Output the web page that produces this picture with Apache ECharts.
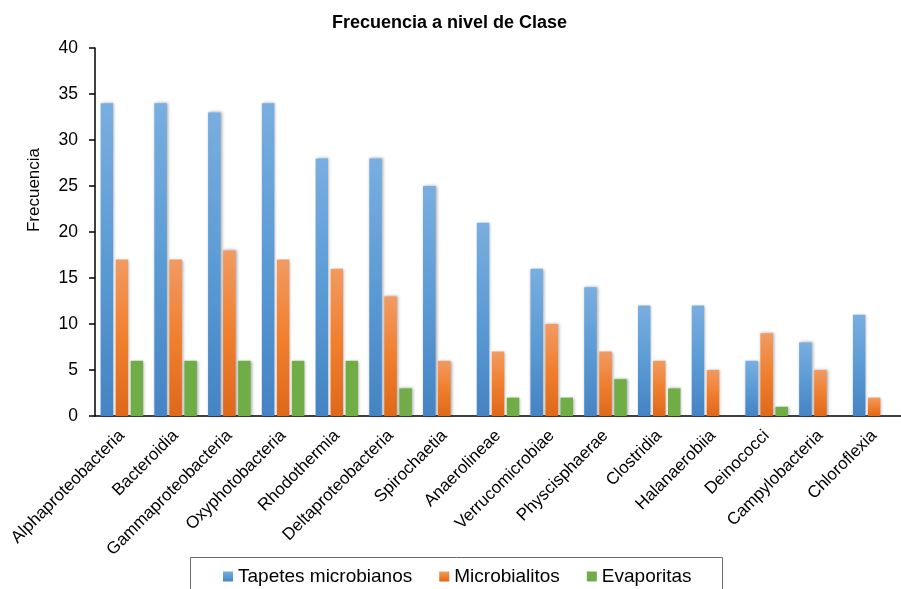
<!DOCTYPE html>
<html>
<head>
<meta charset="utf-8">
<script src="https://cdn.jsdelivr.net/npm/echarts@6/dist/echarts.min.js"></script>
<style>
    html, body { margin: 0; padding: 0; background: #fff; }
    #container { width: 901px; height: 589px; }
</style>
</head>
<body>
<div id="container"></div>
<script>
var clases = ['Alphaproteobacteria', 'Bacteroidia', 'Gammaproteobacteria', 'Oxyphotobacteria',
    'Rhodothermia', 'Deltaproteobacteria', 'Spirochaetia', 'Anaerolineae', 'Verrucomicrobiae',
    'Physcisphaerae', 'Clostridia', 'Halanaerobiia', 'Deinococci', 'Campylobacteria', 'Chloroflexia'];
var tapetes = [34, 34, 33, 34, 28, 28, 25, 21, 16, 14, 12, 12, 6, 8, 11];
var microbialitos = [17, 17, 18, 17, 16, 13, 6, 7, 10, 7, 6, 5, 9, 5, 2];
var evaporitas = [6, 6, 6, 6, 6, 3, 0, 2, 2, 4, 3, 0, 1, 0, 0];
var seriesNames = ['Tapetes microbianos', 'Microbialitos', 'Evaporitas'];

function grad(top, mid, bottom) {
    return new echarts.graphic.LinearGradient(0, 0, 0, 1, [
        {offset: 0, color: top},
        {offset: 0.5, color: mid},
        {offset: 1, color: bottom}
    ]);
}

function barSerie(name, data, color) {
    return {
        name: name,
        type: 'bar',
        data: data,
        barWidth: 12.5,
        barGap: '20%',
        itemStyle: {
            color: color,
            shadowBlur: 3,
            shadowOffsetX: 1,
            shadowColor: 'rgba(0,0,0,0.35)'
        }
    };
}

var myChart = echarts.init(document.getElementById('container'));
var font = 'Liberation Sans, Arial, sans-serif';
var option = {
    animation: false,
    textStyle: {fontFamily: font},
    color: ['#5b9bd5', '#ed7d31', '#70ad47'],
    title: {
        text: 'Frecuencia a nivel de Clase',
        left: 327,
        top: 9,
        textStyle: {fontSize: 18, fontWeight: 'bold', color: '#000', fontFamily: font}
    },
    legend: {
        data: seriesNames,
        left: 218,
        top: 562,
        icon: 'rect',
        itemWidth: 10,
        itemHeight: 10,
        itemGap: 27,
        textStyle: {fontSize: 19, color: '#000', fontFamily: font}
    },
    graphic: [{
        type: 'rect',
        shape: {x: 190.5, y: 557.5, width: 532, height: 40},
        style: {fill: 'none', stroke: '#6b6b6b', lineWidth: 1},
        silent: true
    }],
    grid: {
        left: 95,
        right: -12,
        top: 48,
        bottom: 173
    },
    xAxis: [{
        type: 'category',
        data: clases,
        axisLine: {lineStyle: {color: '#000', width: 1.5}},
        axisTick: {length: 5, lineStyle: {color: '#000', width: 1.5}},
        axisLabel: {
            interval: 0,
            rotate: 45,
            margin: 17,
            fontSize: 17,
            color: '#000'
        }
    }],
    yAxis: [{
        type: 'value',
        min: 0,
        max: 40,
        interval: 5,
        name: 'Frecuencia',
        nameLocation: 'middle',
        nameRotate: 90,
        nameGap: 52,
        nameTextStyle: {fontSize: 17, color: '#000', padding: [0, 0, 0, 84]},
        splitLine: {show: false},
        axisLine: {show: true, lineStyle: {color: '#000', width: 1.5}},
        axisTick: {show: true, length: 6, lineStyle: {color: '#000', width: 1.5}},
        axisLabel: {margin: 17, fontSize: 17.5, color: '#000'}
    }],
    series: [
        barSerie(seriesNames[0], tapetes, grad('#79aee0', '#5b9bd5', '#4583c4')),
        barSerie(seriesNames[1], microbialitos, grad('#f29a62', '#f07f2e', '#df681a')),
        barSerie(seriesNames[2], evaporitas, '#70ad47')
    ]
};

myChart.setOption(option);
</script>
</body>
</html>
